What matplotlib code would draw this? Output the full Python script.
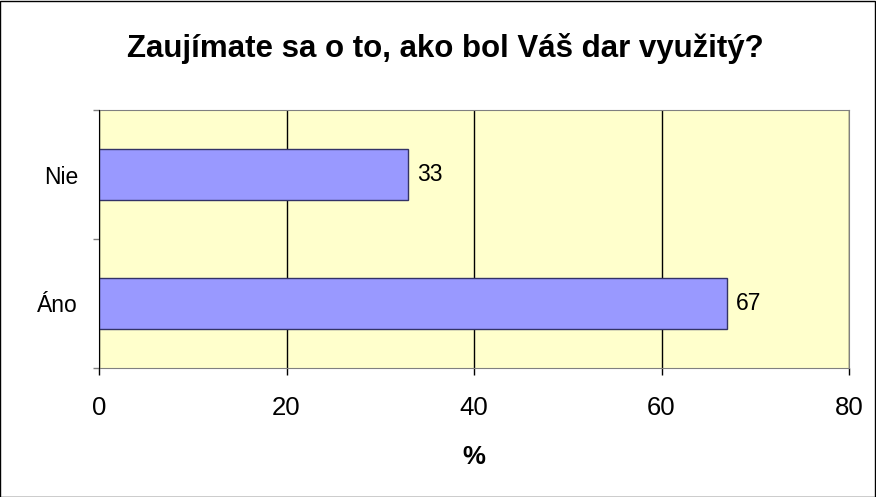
import matplotlib.pyplot as plt
from matplotlib.patches import Rectangle

plt.rcParams['font.family'] = ['Liberation Sans', 'DejaVu Sans']

kategorie = ['Áno', 'Nie']
hodnoty = [67, 33]
x_ticky = [0, 20, 40, 60, 80]

fig = plt.figure(figsize=(8.76, 4.97), dpi=100)
ax = fig.add_axes([99 / 876, 1 - 368 / 497, 750 / 876, 258 / 497])
ax.set_facecolor('#FFFFCC')

pozicie = list(range(len(kategorie)))
ax.barh(pozicie, hodnoty, height=0.4, color='#9999FF', edgecolor='#333366',
        linewidth=1, zorder=3)
for p, v in zip(pozicie, hodnoty):
    ax.annotate(f'{v}', xy=(v, p), xytext=(6, 0), textcoords='offset points',
                va='center', ha='left', fontsize=16.5, zorder=4)

ax.set_xlim(0, 80)
ax.set_ylim(-0.5, 1.5)
ax.set_xticks(x_ticky)
ax.set_xticklabels([str(t) for t in x_ticky], fontsize=18.5)
ax.tick_params(axis='x', direction='out', length=5, width=1, color='black', pad=15)

ax.set_yticks(pozicie)
ax.set_yticklabels(kategorie, fontsize=16.5)
ax.tick_params(axis='y', which='major', length=0, pad=15)
ax.set_yticks([-0.5, 0.5, 1.5], minor=True)
ax.tick_params(axis='y', which='minor', direction='out', length=4.5, width=1, color='#808080')

ax.grid(axis='x', color='black', linewidth=1, zorder=1)
for s in ['top', 'right', 'bottom']:
    ax.spines[s].set_color('#808080')
ax.spines['left'].set_color('black')
ax.spines['left'].set_zorder(5)

fig.text(474 / 876, 1 - 464 / 497, '%', ha='center', va='baseline',
         fontsize=18.5, fontweight='bold')
fig.text(445 / 876, 1 - 57 / 497, 'Zaujímate sa o to, ako bol Váš dar využitý?',
         ha='center', va='baseline', fontsize=22.5, fontweight='bold')

fig.patches.append(Rectangle((0.0005, 0.001), 0.998, 0.997, transform=fig.transFigure,
                             fill=False, edgecolor='black', linewidth=1))

plt.savefig('out.png', dpi=100)
plt.close()
